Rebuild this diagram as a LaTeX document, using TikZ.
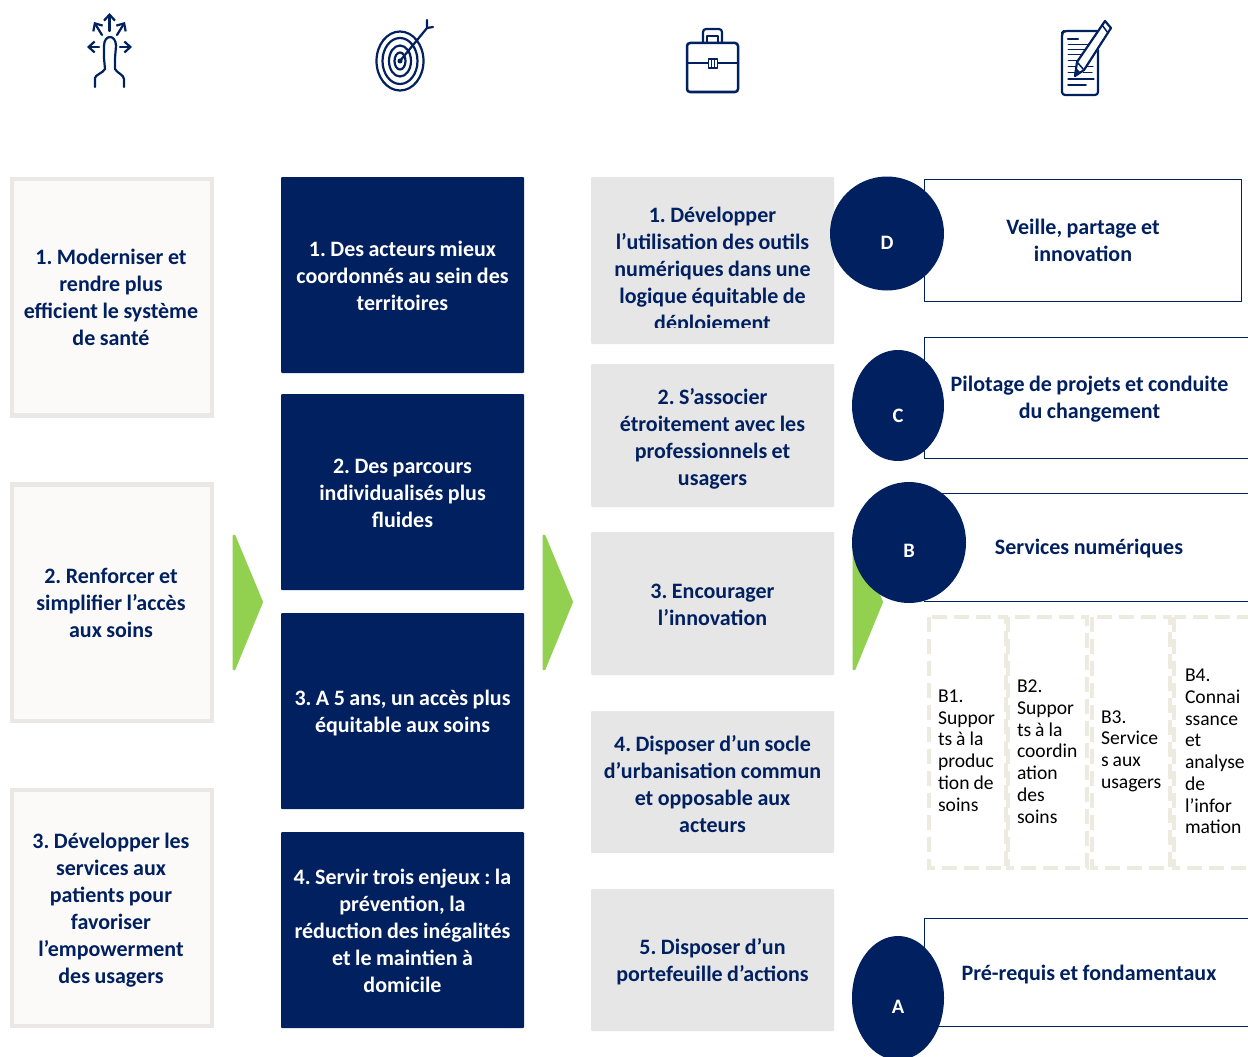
\documentclass[tikz,border=0pt]{standalone}
\usepackage{fontspec}
\setmainfont{Carlito}[WordSpace=0.9]
\frenchspacing
\usetikzlibrary{arrows.meta}
\definecolor{navy}{HTML}{002060}
\definecolor{lgray}{HTML}{E7E6E6}
\definecolor{frame}{HTML}{E9E8E6}
\definecolor{cream}{HTML}{FBFAF8}
\definecolor{dashc}{HTML}{EDEBE0}
\definecolor{leaf}{HTML}{92D050}
\tikzset{
 x=1pt,y=-1pt,
 every node/.style={inner sep=0pt,outer sep=0pt,align=center},
 lbl/.style={font=\fontsize{22}{27}\selectfont\bfseries,text=navy},
 wl/.style={lbl,text=white},
 ico/.style={draw=navy,line width=2.2pt,line cap=round,line join=round},
 icoa/.style={ico,-{Straight Barb[length=6pt,width=11pt,line width=2.2pt]}},
 leafarrow/.style={fill=leaf,draw=leaf,line width=3pt,line join=round},
 thinbox/.style={draw=navy,line width=0.9pt},
 letter/.style={font=\fontsize{20.5}{24}\selectfont\bfseries,text=white},
 dbox/.style={draw=dashc,line width=4.8pt,dash pattern=on 15pt off 7pt},
 small/.style={font=\fontsize{19.6}{21.75}\selectfont,text=black,align=left,anchor=west},
}
\newcommand{\boxnode}[6]{%
 \path[#6] (#2,#3) rectangle (#4,#5);
 \coordinate (#1) at ({(#2+#4)/2},{(#3+#5)/2});}
\begin{document}
\begin{tikzpicture}
\useasboundingbox (0,0) rectangle (1248,1057);
\fill[white] (0,0) rectangle (1248,1057);
% ---- column 1
\tikzset{colA/.style={draw=frame,fill=cream,line width=4.5pt}}
\boxnode{a1}{12}{179}{212}{415.5}{colA}
\boxnode{a2}{12}{484.5}{212}{721}{colA}
\boxnode{a3}{12}{790}{212}{1026}{colA}
\node[lbl] (ta1) at (111,297.5) {1. Moderniser et\\rendre plus\\efficient le système\\de santé};
\node[lbl] (ta2) at (111,603) {2. Renforcer et\\simplifier l’accès\\aux soins};
\node[lbl] (ta3) at (111,910) {3. Développer les\\services aux\\patients pour\\favoriser\\l’empowerment\\des usagers};
% ---- column 2
\tikzset{colB/.style={fill=navy,rounded corners=1pt}}
\boxnode{b1}{281}{177}{524}{373}{colB}
\boxnode{b2}{281}{394}{524}{590}{colB}
\boxnode{b3}{281}{613}{524}{809}{colB}
\boxnode{b4}{281}{832}{524}{1028}{colB}
\node[wl] (tb1) at (402.5,275.5) {1. Des acteurs mieux\\coordonnés au sein des\\territoires};
\node[wl] (tb2) at (402.5,493.5) {2. Des parcours\\individualisés plus\\fluides};
\node[wl] (tb3) at (402.5,713) {3. A 5 ans, un accès plus\\équitable aux soins};
\node[wl] (tb4) at (402.5,930.5) {4. Servir trois enjeux : la\\prévention, la\\réduction des inégalités\\et le maintien à\\domicile};
% ---- column 3
\tikzset{colC/.style={fill=lgray,rounded corners=1pt}}
\boxnode{c1}{591}{177}{834}{344}{colC}
\boxnode{c2}{591}{364}{834}{507}{colC}
\boxnode{c3}{591}{532}{834}{675}{colC}
\boxnode{c4}{591}{711}{834}{853}{colC}
\boxnode{c5}{591}{889}{834}{1031}{colC}
\begin{scope}
\clip (591,190) rectangle (834,327);
\node[lbl,anchor=north] (tc1) at (712.5,207) {1. Développer\\l’utilisation des outils\\numériques dans une\\logique équitable de\\déploiement};
\end{scope}
\node[lbl] (tc2) at (712.5,438.5) {2. S’associer\\étroitement avec les\\professionnels et\\usagers};
\node[lbl] (tc3) at (712.5,604.5) {3. Encourager\\l’innovation};
\node[lbl] (tc4) at (712.5,784.5) {4. Disposer d’un socle\\d’urbanisation commun\\et opposable aux\\acteurs};
\node[lbl] (tc5) at (712.5,962) {5. Disposer d’un\\portefeuille d’actions};
% ---- arrows
\foreach \x in {234,544,854}{
 \path[leafarrow] (\x,536) -- (\x+27.5,602) -- (\x,669) -- cycle;
}
% ---- column 4
\draw[thinbox] (924,179) rectangle (1241,301);
\draw[thinbox] (1250,337.5) -- (924,337.5) -- (924,458.5) -- (1250,458.5);
\draw[thinbox] (1250,493) -- (924,493);
\draw[thinbox] (1250,601) -- (924,601);
\draw[thinbox] (1250,918) -- (924,918) -- (924,1026) -- (1250,1026);
\node[lbl] (td) at (1083,240.5) {Veille, partage et\\innovation};
\node[lbl] (tcc) at (1089.5,399) {Pilotage de projets et conduite\\du changement};
\node[lbl] (tbb) at (1089,548.5) {Services numériques};
\node[lbl] (taa) at (1089,974.5) {Pré-requis et fondamentaux};
\fill[navy] (887,233.5) circle (57);
\node[letter] (D) at (887,243) {D};
\fill[navy] (898,405.5) ellipse (46 and 55.5);
\node[letter] (C) at (898,416) {C};
\fill[navy] (909,542.5) ellipse (57 and 60.5);
\node[letter] (B) at (909,551) {B};
\begin{scope}
\clip (840,930) rectangle (960,1057);
\fill[navy] (898,998) ellipse (46 and 62);
\end{scope}
\node[letter] (A) at (898,1007) {A};
% ---- dashed boxes
\begin{scope}
\clip (900,600) rectangle (1248,880);
\draw[dbox] (929,617) rectangle (1006,868);
\draw[dbox] (1008,617) rectangle (1087,868);
\draw[dbox] (1092,617) rectangle (1170,868);
\draw[dbox] (1174,617) rectangle (1270,868);
\end{scope}
\node[small] (s1) at (938,750.5) {B1.\\Suppor\\ts à la\\produc\\tion de\\soins};
\node[small] (s2) at (1017,751.5) {B2.\\Suppor\\ts à la\\coordin\\ation\\des\\soins};
\node[small] (s3) at (1101,751) {B3.\\Service\\s aux\\usagers};
\node[small] (s4) at (1185,751.5) {B4.\\Connai\\ssance\\et\\analyse\\de\\l’infor\\mation};
% ---- icon 1: person with arrows
\draw[ico] (95,87) -- (95,78) .. controls (95,75) and (103,73) .. (105,69) -- (104,58) -- (104,46) .. controls (104,34) and (116,34) .. (116,46) -- (115,58) -- (115,69) .. controls (117,73) and (124,75) .. (124,79) -- (124,87);
\draw[icoa] (109.5,31) -- (109.5,13);
\draw[icoa] (102,35) -- (94,22);
\draw[icoa] (117,35) -- (125,22);
\draw[icoa] (99,47) -- (87,47);
\draw[icoa] (120,47) -- (132,47);
% ---- icon 2: target
\foreach \rx/\ry in {23.5/29.5,17.5/23,11/15.5,5.5/8.5}
 \draw[ico] (400,61) ellipse (\rx pt and \ry pt);
\fill[navy] (400,61) circle (2.5);
\draw[ico] (400,61) -- (427,28) -- (427,20);
\draw[ico] (427,28) -- (433,27);
% ---- icon 3: briefcase
\draw[ico,line width=2.5pt,rounded corners=3pt] (687,43) rectangle (738,92);
\draw[ico,line width=2.5pt] (687,63) -- (708,63) (718,63) -- (738,63);
\draw[ico,line width=1.5pt] (708.5,59) rectangle (717.5,68);
\draw[ico,line width=1.2pt] (711.5,59) -- (711.5,68) (714.5,59) -- (714.5,68);
\draw[ico,rounded corners=3pt] (703,42) -- (703,29) -- (722,29) -- (722,42);
\draw[ico,line width=1.5pt] (707,42) -- (707,36) -- (718,36) -- (718,42);
% ---- icon 4: document and pencil
\draw[ico,rounded corners=3pt] (1097,31) -- (1064,31) -- (1062,33) -- (1062,95) -- (1098,95) -- (1098,50);
\draw[ico] (1068,39) -- (1078,39);
\draw[ico,line width=1pt] (1068,45) -- (1092,45);
\draw[ico,line width=1pt] (1068,50) -- (1090,50);
\draw[ico,line width=1pt] (1068,55) -- (1086,55);
\draw[ico,line width=1pt] (1068,61) -- (1084,61);
\draw[ico,line width=1pt] (1068,67) -- (1093,67);
\draw[ico,line width=1pt] (1068,73) -- (1076,73) (1083,73) -- (1092,73);
\draw[ico,line width=1.2pt] (1068,79) -- (1094,79);
\draw[ico,line width=1.5pt] (1068,85) -- (1086,85);
\draw[ico,fill=white] (1075,76) -- (1077,62) -- (1105,21) -- (1111,28) -- (1084,70) -- cycle;
\draw[ico,line width=1.5pt] (1102,25) -- (1108,33);
\draw[ico,line width=1.5pt] (1077,62) -- (1084,70);
\fill[navy] (1074,77) -- (1076,68) -- (1080,72) -- cycle;
\end{tikzpicture}
\end{document}
